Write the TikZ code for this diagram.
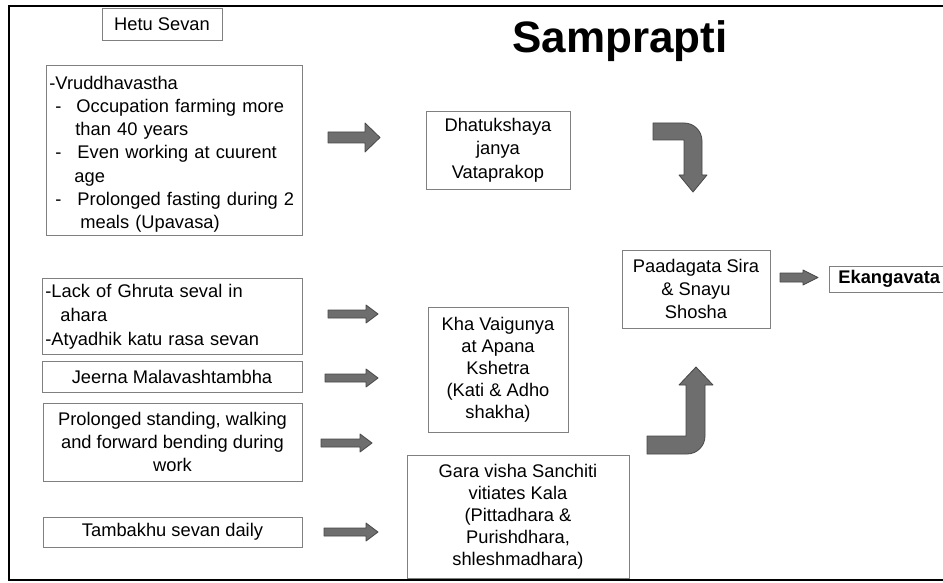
\documentclass[tikz,border=0pt]{standalone}
\usepackage{fontspec}
\setmainfont{Liberation Sans}
\newcommand\myarr[6]{\filldraw[barrow] (#1,{#3-#4}) -- ({#2-#6},{#3-#4}) -- ({#2-#6},{#3-#5}) -- (#2,#3) -- ({#2-#6},{#3+#5}) -- ({#2-#6},{#3+#4}) -- (#1,{#3+#4}) -- cycle;}
\tikzset{
  box/.style={draw=black!50, line width=0.8pt, inner sep=0pt, align=center, text=black, font=\fontsize{18.3}{23.3}\selectfont},
  barrow/.style={fill=black!57, draw=black!72, line width=0.8pt, line join=round},
}
\begin{document}
\begin{tikzpicture}[x=1pt,y=-1pt]
\clip (0,0) rectangle (943,583);
\fill[white] (0,0) rectangle (943,583);
\draw[line width=2pt] (946,6) -- (9,6) -- (9,580) -- (946,580);

\node[font=\bfseries\fontsize{44}{50}\selectfont, anchor=base] (title) at (620,53) {Samprapti};

\node[box, minimum width=120pt, minimum height=32pt] (hetu) at (162,24) {Hetu Sevan};

\node[box, align=left, anchor=north west, text width=250pt, inner xsep=3pt, minimum height=170pt, font=\fontsize{18.3}{23.3}\selectfont] (b1) at (46,65) {\rule{0pt}{21pt}-Vruddhavastha\\
\hspace*{6pt}-\hspace*{15pt}Occupation farming more\\
\hspace*{26pt}than 40 years\\
\hspace*{6pt}-\hspace*{16pt}Even working at cuurent\\
\hspace*{25pt}age\\
\hspace*{6pt}-\hspace*{16pt}Prolonged fasting during 2\\
\hspace*{31pt}meals (Upavasa)};

\node[box, minimum width=144pt, minimum height=78pt, font=\fontsize{18.3}{23.5}\selectfont] (dhatu) at (498,150) {Dhatukshaya\\janya\\Vataprakop};

\node[box, minimum width=148pt, minimum height=78pt] (paada) at (696,289) {Paadagata Sira\\\& Snayu\\Shosha};

\node[box, anchor=west, align=left, text width=104pt, inner xsep=9pt, minimum height=26pt, font=\bfseries\fontsize{18.3}{22}\selectfont] (eka) at (829,279) {Ekangavata};

\node[box, align=left, anchor=north west, text width=254pt, inner xsep=3pt, minimum height=76pt, font=\fontsize{18.3}{24}\selectfont] (b2) at (42,278) {-Lack of Ghruta seval in\\
\hspace*{15pt}ahara\\
-Atyadhik katu rasa sevan};

\node[box, minimum width=260pt, minimum height=31pt] (jeerna) at (172,376.5) {Jeerna Malavashtambha};

\node[box, minimum width=259pt, minimum height=78pt] (prolong) at (172.5,442) {Prolonged standing, walking\\and forward bending during\\work};

\node[box, minimum width=259pt, minimum height=30pt] (tamba) at (172.5,532) {Tambakhu sevan daily};

\node[box, minimum width=140pt, minimum height=125pt, font=\fontsize{18.3}{22}\selectfont] (kha) at (498,369.5) {Kha Vaigunya\\at Apana\\Kshetra\\(Kati \& Adho\\shakha)};

\node[box, minimum width=222pt, minimum height=123pt, font=\fontsize{18.3}{22}\selectfont] (gara) at (518,516.5) {Gara visha Sanchiti\\vitiates Kala\\(Pittadhara \&\\Purishdhara,\\shleshmadhara)};

\myarr{328}{380}{137.5}{5.5}{14.5}{15}
\myarr{328}{378}{314}{4}{9}{12}
\myarr{325}{378}{378}{4}{9}{12}
\myarr{321}{372}{443}{4}{9}{12}
\myarr{324}{378}{532}{4}{9}{12}
\myarr{780}{818}{277.5}{4.5}{7.5}{15}

\filldraw[barrow] (653,123) -- (684,123) .. controls (694,123) and (702,131) .. (702,141) -- (702,175) -- (707,175) -- (693,192) -- (679,175) -- (684,175) -- (684,140) -- (653,140) -- cycle;

\filldraw[barrow] (647,436) -- (686,436) -- (686,385) -- (679,385) -- (696,367) -- (713,385) -- (705,385) -- (705,436) .. controls (705,446) and (697,454) .. (687,454) -- (647,454) -- cycle;
\end{tikzpicture}
\end{document}
